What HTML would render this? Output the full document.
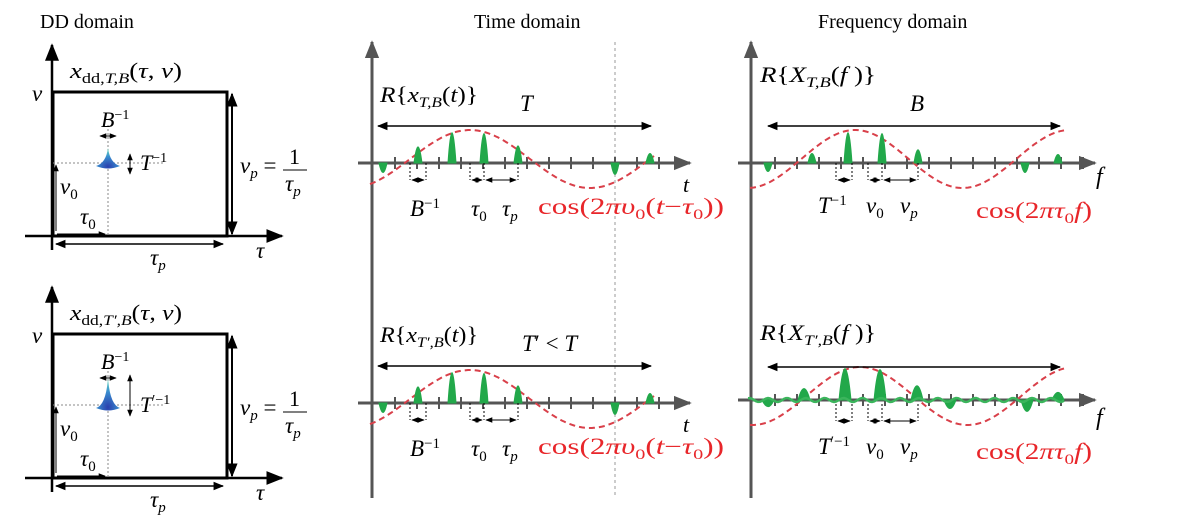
<!DOCTYPE html>
<html><head><meta charset="utf-8"><style>
html,body{margin:0;padding:0;background:#fff}
svg{display:block}
text{font-family:"Liberation Serif",serif;fill:#000}
.r{fill:#e8262a}
</style></head><body>
<svg id="s" width="1180" height="522" viewBox="0 0 1180 522" xmlns="http://www.w3.org/2000/svg">
<defs>
<marker id="a" viewBox="0 0 10 10" refX="9" refY="5" markerWidth="7" markerHeight="7" orient="auto-start-reverse"><path d="M0,1 L10,5 L0,9 z" fill="#000"/></marker>
<marker id="g" viewBox="0 0 10 10" refX="9" refY="5" markerWidth="6" markerHeight="6" orient="auto-start-reverse"><path d="M0,1 L10,5 L0,9 z" fill="#555"/></marker>
<radialGradient id="pk" cx="50%" cy="90%" r="80%"><stop offset="0" stop-color="#2a3fae"/><stop offset="0.6" stop-color="#3a8fd0"/><stop offset="1" stop-color="#5fd0c0"/></radialGradient>
</defs>
<text x="40" y="28" font-size="20">DD domain</text>
<text x="474" y="28" font-size="20">Time domain</text>
<text x="818" y="28" font-size="20">Frequency domain</text>
</svg>
<script>
const S=document.getElementById('s');
function el(t,a,p){const e=document.createElementNS('http://www.w3.org/2000/svg',t);for(const k in a)e.setAttribute(k,a[k]);(p||S).appendChild(e);return e;}
function tx(x,y,s,sz,cls,it,len){const e=el('text',{x:x,y:y,'font-size':Math.round((sz||18)*1.15)});if(cls)e.setAttribute('class',cls);if(it)e.setAttribute('font-style','italic');e.innerHTML=s;if(len){e.setAttribute('textLength',len);e.setAttribute('lengthAdjust','spacingAndGlyphs');}return e;}
function ln(x1,y1,x2,y2,o){o=o||{};const a=Object.assign({x1,y1,x2,y2,stroke:'#000','stroke-width':2},o);return el('line',a);}
const SUB='font-size="15"';
function dd(oy,tall,lab){
 ln(52,250+oy,52,45+oy,{'marker-end':'url(#a)','stroke-width':2.5});
 ln(25,236+oy,282,236+oy,{'marker-end':'url(#a)','stroke-width':2.5});
 el('rect',{x:53,y:92+oy,width:174,height:144,fill:'none',stroke:'#000','stroke-width':3});
 ln(232,94+oy,232,234+oy,{'marker-end':'url(#a)','marker-start':'url(#a)'});
 ln(53,163+oy,165,163+oy,{stroke:'#888','stroke-dasharray':'2,2','stroke-width':1});
 ln(108,125+oy,108,236+oy,{stroke:'#888','stroke-dasharray':'2,2','stroke-width':1});
 ln(57,234+oy,105,234+oy,{'marker-end':'url(#a)','stroke-width':1});
 ln(56,244+oy,223,244+oy,{'marker-end':'url(#a)','marker-start':'url(#a)','stroke-width':1.5});
 ln(56,231+oy,56,165+oy,{'marker-end':'url(#a)','stroke-width':1});
 const h=tall?30:18;
 el('path',{d:`M96,${166+oy} Q106,${163+oy} 108,${166+oy-h} Q110,${163+oy} 120,${166+oy} Q108,${171+oy} 96,${166+oy}z`,fill:'url(#pk)'});
 ln(100,136+oy,116,136+oy,{'marker-end':'url(#a)','marker-start':'url(#a)','stroke-width':1});
 ln(130,tall?(133+oy):(154+oy),130,174+oy,{'marker-end':'url(#a)','marker-start':'url(#a)','stroke-width':1});
 tx(32,101+oy,'ν',20,'',1);
 tx(70,78+oy,lab,19,'',0,112);
 tx(101,127+oy,'<tspan font-style="italic">B</tspan><tspan font-size="14" dy="-8">−1</tspan>',19);
 tx(140,170+oy,tall?'<tspan font-style="italic">T</tspan><tspan font-size="14" dy="-8">′−1</tspan>':'<tspan font-style="italic">T</tspan><tspan font-size="14" dy="-8">−1</tspan>',19);
 tx(60,194+oy,`<tspan font-style="italic">ν</tspan><tspan ${SUB} dy="5">0</tspan>`,20);
 tx(80,224+oy,`<tspan font-style="italic">τ</tspan><tspan ${SUB} dy="5">0</tspan>`,20);
 tx(150,265+oy,`<tspan font-style="italic">τ</tspan><tspan ${SUB} dy="5" font-style="italic">p</tspan>`,20);
 tx(256,258+oy,'τ',20,'',1);
 tx(240,173+oy,`<tspan font-style="italic">ν</tspan><tspan ${SUB} dy="5" font-style="italic">p</tspan><tspan dy="-5"> =</tspan>`,20);
 tx(289,164+oy,'1',19);
 ln(283,170+oy,307,170+oy,{'stroke-width':1});
 tx(285,191+oy,`<tspan font-style="italic">τ</tspan><tspan ${SUB} dy="5" font-style="italic">p</tspan>`,20);
}
dd(0,false,`<tspan font-style="italic">x</tspan><tspan ${SUB} dy="5">dd,<tspan font-style="italic">T,B</tspan></tspan><tspan dy="-5">(<tspan font-style="italic">τ</tspan>, <tspan font-style="italic">ν</tspan>)</tspan>`);
dd(242,true,`<tspan font-style="italic">x</tspan><tspan ${SUB} dy="5">dd,<tspan font-style="italic">T′,B</tspan></tspan><tspan dy="-5">(<tspan font-style="italic">τ</tspan>, <tspan font-style="italic">ν</tspan>)</tspan>`);
ln(372,498,372,42,{stroke:'#555','stroke-width':3,'marker-end':'url(#g)'});
ln(751,498,751,42,{stroke:'#555','stroke-width':3,'marker-end':'url(#g)'});
ln(615,42,615,498,{stroke:'#999','stroke-dasharray':'3,3','stroke-width':1});
function panel(x0,x1,y,spk,cosA,cosPeak,cosPer,arrEnd,ticks,soft){
 ln(x0,y,x1,y,{stroke:'#555','stroke-width':3,'marker-end':'url(#g)'});
 for(let x=ticks[0];x<x1-10;x+=ticks[1])ln(x,y-6,x,y+6,{stroke:'#555','stroke-width':2});
 let d='';for(let x=x0+12;x<=arrEnd+5;x+=2){const yy=y-4-cosA*Math.cos(2*Math.PI*(x-cosPeak)/cosPer);d+=(d?'L':'M')+x+','+yy.toFixed(1);}
 el('path',{d:d,fill:'none',stroke:'#d9404a','stroke-width':2,'stroke-dasharray':'6,4'});
 spk.forEach(([x,h])=>{const w=soft?6:4;el('path',{d:`M${x-w},${y} Q${x},${y-h*1.9} ${x+w},${y}z`,fill:'#22a84a',stroke:'#22a84a','stroke-width':1});});
 if(soft){let d2='';for(let x=x0+10;x<x1-30;x+=2){d2+=(d2?'L':'M')+x+','+(y+2*Math.sin(x/3)).toFixed(1);}el('path',{d:d2,fill:'none',stroke:'#3bb55c','stroke-width':2.5});}
}
[163,403].forEach(y=>{
 panel(358,690,y,[[383,-10],[418,17],[452,32],[484,31],[518,18],[615,-12],[650,10]],29,470,240,650,[395,22],false);
});
panel(738,1095,163,[[768,-9],[812,10],[848,32],[882,31],[918,14],[1025,-10],[1058,9]],29,855,215,1060,[775,22],false);
panel(738,1095,400,[[768,-7],[804,12],[845,33],[880,32],[917,15],[950,-9],[1027,-12],[1058,8]],29,860,215,1060,[775,22],true);
function tlab(oy,title,Tlab){
 tx(380,102+oy,title,19,'',0,98);
 ln(378,126+oy,651,126+oy,{'marker-end':'url(#a)','marker-start':'url(#a)','stroke-width':1.5});
 tx(Tlab[0],111+oy,Tlab[1],20);
 [[410,426],[470,484],[484,518]].forEach(([a,b])=>{ln(a,163+oy,a,180+oy,{'stroke-dasharray':'2,2','stroke-width':1});ln(b,163+oy,b,180+oy,{'stroke-dasharray':'2,2','stroke-width':1});ln(a+2,180+oy,b-2,180+oy,{'marker-end':'url(#a)','marker-start':'url(#a)','stroke-width':1});});
 tx(683,192+oy,'t',19,'',1);
 tx(410,216+oy,'<tspan font-style="italic">B</tspan><tspan font-size="15" dy="-8">−1</tspan>',20);
 tx(471,216+oy,`<tspan font-style="italic">τ</tspan><tspan ${SUB} dy="5">0</tspan>`,20);
 tx(502,216+oy,`<tspan font-style="italic">τ</tspan><tspan ${SUB} dy="5" font-style="italic">p</tspan>`,20);
 tx(538,214+oy,`cos(2<tspan font-style="italic">πυ</tspan><tspan ${SUB} dy="5">0</tspan><tspan dy="-5">(<tspan font-style="italic">t</tspan>−<tspan font-style="italic">τ</tspan></tspan><tspan ${SUB} dy="5">0</tspan><tspan dy="-5">))</tspan>`,20,'r',0,186);
}
tlab(0,`<tspan font-style="italic">R</tspan>{<tspan font-style="italic">x</tspan><tspan ${SUB} dy="5" font-style="italic">T,B</tspan><tspan dy="-5">(<tspan font-style="italic">t</tspan>)}</tspan>`,[520,'<tspan font-style="italic">T</tspan>']);
tlab(240,`<tspan font-style="italic">R</tspan>{<tspan font-style="italic">x</tspan><tspan ${SUB} dy="5" font-style="italic">T′,B</tspan><tspan dy="-5">(<tspan font-style="italic">t</tspan>)}</tspan>`,[522,'<tspan font-style="italic">T</tspan>′ &lt; <tspan font-style="italic">T</tspan>']);
function flab(oy,ty,title,Tl){
 tx(760,ty,title,19,'',0,116);
 ln(768,126+oy,1060,126+oy,{'marker-end':'url(#a)','marker-start':'url(#a)','stroke-width':1.5});
 [[836,852],[868,882],[882,918]].forEach(([a,b])=>{ln(a,163+oy,a,180+oy,{'stroke-dasharray':'2,2','stroke-width':1});ln(b,163+oy,b,180+oy,{'stroke-dasharray':'2,2','stroke-width':1});ln(a+2,180+oy,b-2,180+oy,{'marker-end':'url(#a)','marker-start':'url(#a)','stroke-width':1});});
 tx(1096,184+oy,'f',21,'',1);
 tx(818,213+oy,Tl,20);
 tx(866,213+oy,`<tspan font-style="italic">ν</tspan><tspan ${SUB} dy="5">0</tspan>`,20);
 tx(900,213+oy,`<tspan font-style="italic">ν</tspan><tspan ${SUB} dy="5" font-style="italic">p</tspan>`,20);
 tx(976,218+oy,`cos(2<tspan font-style="italic">πτ</tspan><tspan ${SUB} dy="5">0</tspan><tspan dy="-5"><tspan font-style="italic">f</tspan>)</tspan>`,20,'r',0,116);
}
flab(0,82,`<tspan font-style="italic">R</tspan>{<tspan font-style="italic">X</tspan><tspan ${SUB} dy="5" font-style="italic">T,B</tspan><tspan dy="-5">(<tspan font-style="italic">f</tspan> )}</tspan>`,'<tspan font-style="italic">T</tspan><tspan font-size="15" dy="-8">−1</tspan>');
tx(910,111,'B',20,'',1);
flab(241,340,`<tspan font-style="italic">R</tspan>{<tspan font-style="italic">X</tspan><tspan ${SUB} dy="5" font-style="italic">T′,B</tspan><tspan dy="-5">(<tspan font-style="italic">f</tspan> )}</tspan>`,'<tspan font-style="italic">T</tspan><tspan font-size="15" dy="-8">′−1</tspan>');
</script>
</body></html>
